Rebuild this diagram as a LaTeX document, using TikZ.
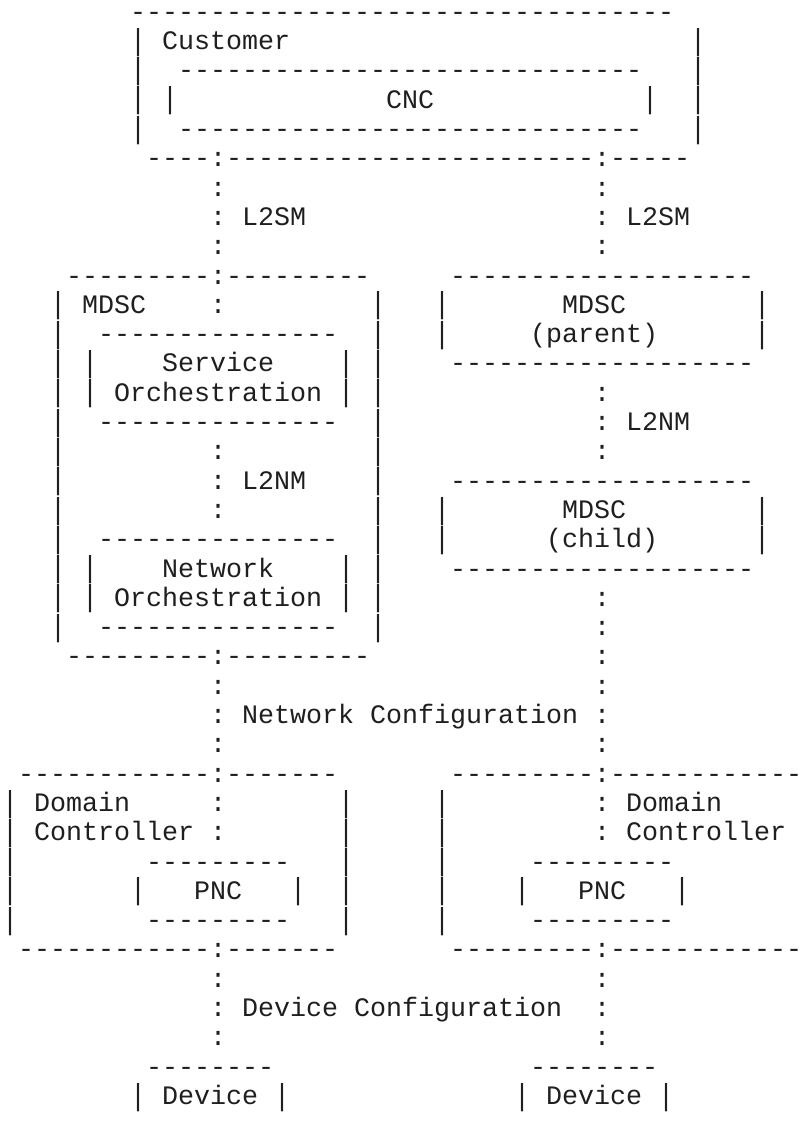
\documentclass[tikz,border=0pt]{standalone}
\usepackage{fontspec}
\usepackage{graphicx}
\newfontfamily\asciifont{Liberation Mono}
\tikzset{
  ascii/.style={anchor=base west, inner sep=0pt, outer sep=0pt, text=black!88,
    font=\asciifont\fontsize{26.67}{29.3}\selectfont},
}
% one character cell is 16pt wide, one text row 29.3pt high
\newcommand\txtat[3]{\node[ascii] (r#1c#2) at ({2+16*#2},{-(20.3+29.3*#1)}) {#3};}
% box sides: a bar stretched to the full row height
\newcommand\barat[2]{\node[ascii] (r#1c#2) at ({2+16*#2},{-(20.3+29.3*#1)})
  {\raisebox{-0.6pt}{\scalebox{1}[1.14]{|}}};}
\newcommand\dashrun[1]{\foreach \k in {1,...,#1}{-}}
\newcommand\dashat[3]{\node[ascii] (r#1c#2) at ({2+16*#2},{-(20.3+29.3*#1)}) {\dashrun{#3}};}
\begin{document}
\begin{tikzpicture}[x=1pt,y=1pt]
\useasboundingbox (0,0) rectangle (802,-1124);
\fill[white] (0,0) rectangle (802,-1124);
% Customer / CNC
\dashat{0}{8}{34}
\barat{1}{8}\txtat{1}{10}{Customer}\barat{1}{43}
\barat{2}{8}\dashat{2}{11}{29}\barat{2}{43}
\barat{3}{8}\barat{3}{10}\txtat{3}{24}{CNC}\barat{3}{40}\barat{3}{43}
\barat{4}{8}\dashat{4}{11}{29}\barat{4}{43}
\dashat{5}{9}{4}\txtat{5}{13}{:}\dashat{5}{14}{23}\txtat{5}{37}{:}\dashat{5}{38}{5}
% L2SM
\txtat{6}{13}{:}\txtat{6}{37}{:}
\txtat{7}{13}{:}\txtat{7}{15}{L2SM}\txtat{7}{37}{:}\txtat{7}{39}{L2SM}
\txtat{8}{13}{:}\txtat{8}{37}{:}
% MDSC boxes
\dashat{9}{4}{9}\txtat{9}{13}{:}\dashat{9}{14}{9}\dashat{9}{28}{19}
\barat{10}{3}\txtat{10}{5}{MDSC}\txtat{10}{13}{:}\barat{10}{23}
\barat{10}{27}\txtat{10}{35}{MDSC}\barat{10}{47}
\barat{11}{3}\dashat{11}{6}{15}\barat{11}{23}
\barat{11}{27}\txtat{11}{33}{(parent)}\barat{11}{47}
\barat{12}{3}\barat{12}{5}\txtat{12}{10}{Service}\barat{12}{21}\barat{12}{23}
\dashat{12}{28}{19}
\barat{13}{3}\barat{13}{5}\txtat{13}{7}{Orchestration}\barat{13}{21}\barat{13}{23}
\txtat{13}{37}{:}
\barat{14}{3}\dashat{14}{6}{15}\barat{14}{23}
\txtat{14}{37}{:}\txtat{14}{39}{L2NM}
\barat{15}{3}\txtat{15}{13}{:}\barat{15}{23}\txtat{15}{37}{:}
\barat{16}{3}\txtat{16}{13}{:}\txtat{16}{15}{L2NM}\barat{16}{23}\dashat{16}{28}{19}
\barat{17}{3}\txtat{17}{13}{:}\barat{17}{23}
\barat{17}{27}\txtat{17}{35}{MDSC}\barat{17}{47}
\barat{18}{3}\dashat{18}{6}{15}\barat{18}{23}
\barat{18}{27}\txtat{18}{34}{(child)}\barat{18}{47}
\barat{19}{3}\barat{19}{5}\txtat{19}{10}{Network}\barat{19}{21}\barat{19}{23}
\dashat{19}{28}{19}
\barat{20}{3}\barat{20}{5}\txtat{20}{7}{Orchestration}\barat{20}{21}\barat{20}{23}
\txtat{20}{37}{:}
\barat{21}{3}\dashat{21}{6}{15}\barat{21}{23}\txtat{21}{37}{:}
\dashat{22}{4}{9}\txtat{22}{13}{:}\dashat{22}{14}{9}\txtat{22}{37}{:}
% Network Configuration
\txtat{23}{13}{:}\txtat{23}{37}{:}
\txtat{24}{13}{:}\txtat{24}{15}{Network}\txtat{24}{23}{Configuration}\txtat{24}{37}{:}
\txtat{25}{13}{:}\txtat{25}{37}{:}
% Domain controllers
\dashat{26}{1}{12}\txtat{26}{13}{:}\dashat{26}{14}{7}
\dashat{26}{28}{9}\txtat{26}{37}{:}\dashat{26}{38}{12}
\barat{27}{0}\txtat{27}{2}{Domain}\txtat{27}{13}{:}\barat{27}{21}
\barat{27}{27}\txtat{27}{37}{:}\txtat{27}{39}{Domain}
\barat{28}{0}\txtat{28}{2}{Controller}\txtat{28}{13}{:}\barat{28}{21}
\barat{28}{27}\txtat{28}{37}{:}\txtat{28}{39}{Controller}
\barat{29}{0}\dashat{29}{9}{9}\barat{29}{21}
\barat{29}{27}\dashat{29}{33}{9}
\barat{30}{0}\barat{30}{8}\txtat{30}{12}{PNC}\barat{30}{18}\barat{30}{21}
\barat{30}{27}\barat{30}{32}\txtat{30}{36}{PNC}\barat{30}{42}
\barat{31}{0}\dashat{31}{9}{9}\barat{31}{21}
\barat{31}{27}\dashat{31}{33}{9}
\dashat{32}{1}{12}\txtat{32}{13}{:}\dashat{32}{14}{7}
\dashat{32}{28}{9}\txtat{32}{37}{:}\dashat{32}{38}{12}
% Device Configuration
\txtat{33}{13}{:}\txtat{33}{37}{:}
\txtat{34}{13}{:}\txtat{34}{15}{Device}\txtat{34}{22}{Configuration}\txtat{34}{37}{:}
\txtat{35}{13}{:}\txtat{35}{37}{:}
% Devices
\dashat{36}{9}{8}\dashat{36}{33}{8}
\barat{37}{8}\txtat{37}{10}{Device}\barat{37}{17}
\barat{37}{32}\txtat{37}{34}{Device}\barat{37}{41}
\end{tikzpicture}
\end{document}
